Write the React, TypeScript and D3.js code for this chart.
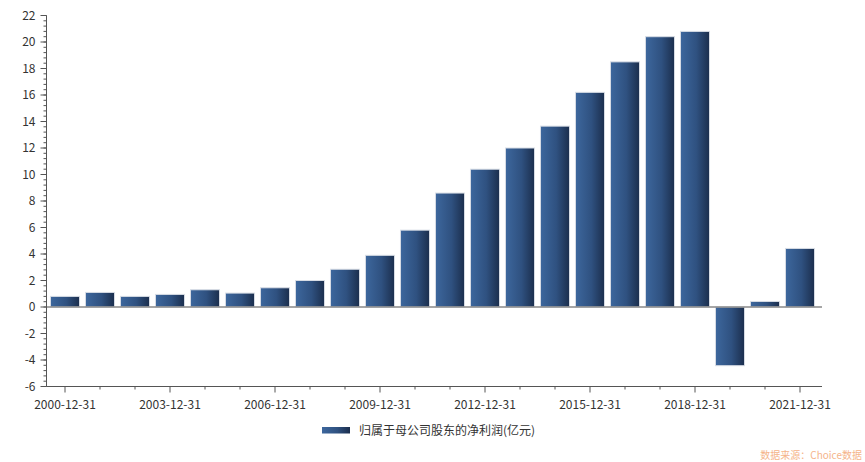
import React from "react";
import * as d3 from "d3";

const categories = [
  "2000-12-31", "2001-12-31", "2002-12-31", "2003-12-31", "2004-12-31", "2005-12-31",
  "2006-12-31", "2007-12-31", "2008-12-31", "2009-12-31", "2010-12-31", "2011-12-31",
  "2012-12-31", "2013-12-31", "2014-12-31", "2015-12-31", "2016-12-31", "2017-12-31",
  "2018-12-31", "2019-12-31", "2020-12-31", "2021-12-31",
];
const netProfit = [
  0.8, 1.1, 0.8, 0.95, 1.3, 1.05, 1.45, 2.0, 2.85, 3.9, 5.8, 8.6,
  10.4, 12.0, 13.65, 16.2, 18.5, 20.4, 20.8, -4.43, 0.42, 4.42,
];
const yTicks = [-6, -4, -2, 0, 2, 4, 6, 8, 10, 12, 14, 16, 18, 20, 22];
const seriesName = "归属于母公司股东的净利润(亿元)";
const sourceText = "数据来源：Choice数据";

const W = 865;
const H = 462;
const FONT = "'Noto Sans CJK SC', 'Noto Sans', sans-serif";

export default function App() {
  const left = 46.5;
  const axisRight = 822;
  const top = 15.5;
  const bottom = 386.5;

  const x = d3.scaleBand<string>().domain(categories).range([47.5, 817.5]).paddingInner(0.17).paddingOuter(0.085);
  const y = d3.scaleLinear().domain([-6, 22]).range([bottom, top]);
  const minorTicks = d3.range(-6, 22.001, 0.4);

  return (
    <svg width={W} height={H} style={{ position: "absolute", left: 0, top: 0, display: "block" }} fontFamily={FONT}>
      <defs>
        <linearGradient id="barGrad" x1="0" x2="1" y1="0" y2="0">
          <stop offset="0%" stopColor="#3d679d" />
          <stop offset="55%" stopColor="#2f5180" />
          <stop offset="100%" stopColor="#1b2e4d" />
        </linearGradient>
      </defs>
      <rect width={W} height={H} fill="#fff" />

      {/* bars */}
      {categories.map((c, i) => {
        const v = netProfit[i];
        const y0 = y(0);
        const y1 = y(v);
        return (
          <rect
            key={c}
            x={x(c)}
            y={Math.min(y0, y1)}
            width={x.bandwidth()}
            height={Math.abs(y1 - y0)}
            fill="url(#barGrad)"
            stroke="#d8dde5"
            strokeWidth={1}
          />
        );
      })}

      {/* zero line */}
      <line x1={left} x2={axisRight} y1={y(0)} y2={y(0)} stroke="#888" strokeWidth={1.5} />

      {/* y axis */}
      <line x1={left} x2={left} y1={top} y2={bottom} stroke="#555" strokeWidth={1} />
      {minorTicks.map((t, i) => (
        <line key={"m" + i} x1={left - 3} x2={left} y1={y(t)} y2={y(t)} stroke="#555" strokeWidth={1} />
      ))}
      {yTicks.map((t) => (
        <g key={t}>
          <line x1={left - 6} x2={left} y1={y(t)} y2={y(t)} stroke="#555" strokeWidth={1} />
          <text x={left - 11} y={y(t)} dy="0.35em" textAnchor="end" fontSize={12} fill="#333">
            {t}
          </text>
        </g>
      ))}

      {/* x axis */}
      <line x1={left} x2={axisRight} y1={bottom} y2={bottom} stroke="#555" strokeWidth={1} />
      {categories.map((c, i) => {
        const cx = (x(c) as number) + x.bandwidth() / 2;
        const major = i % 3 === 0;
        return (
          <g key={"x" + c}>
            <line x1={cx} x2={cx} y1={bottom} y2={bottom + (major ? 6 : 3)} stroke="#555" strokeWidth={1} />
            {major && (
              <text x={cx} y={bottom + 18} dy="0.35em" textAnchor="middle" fontSize={12} fill="#333">
                {c}
              </text>
            )}
          </g>
        );
      })}

      {/* legend */}
      <rect x={322} y={427} width={28} height={6.5} fill="url(#barGrad)" />
      <text x={359} y={430.5} dy="0.35em" fontSize={12} fill="#333">
        {seriesName}
      </text>

      {/* source */}
      <text x={862} y={455.5} dy="0.35em" textAnchor="end" fontSize={10} fill="#f5b48a">
        {sourceText}
      </text>
    </svg>
  );
}
